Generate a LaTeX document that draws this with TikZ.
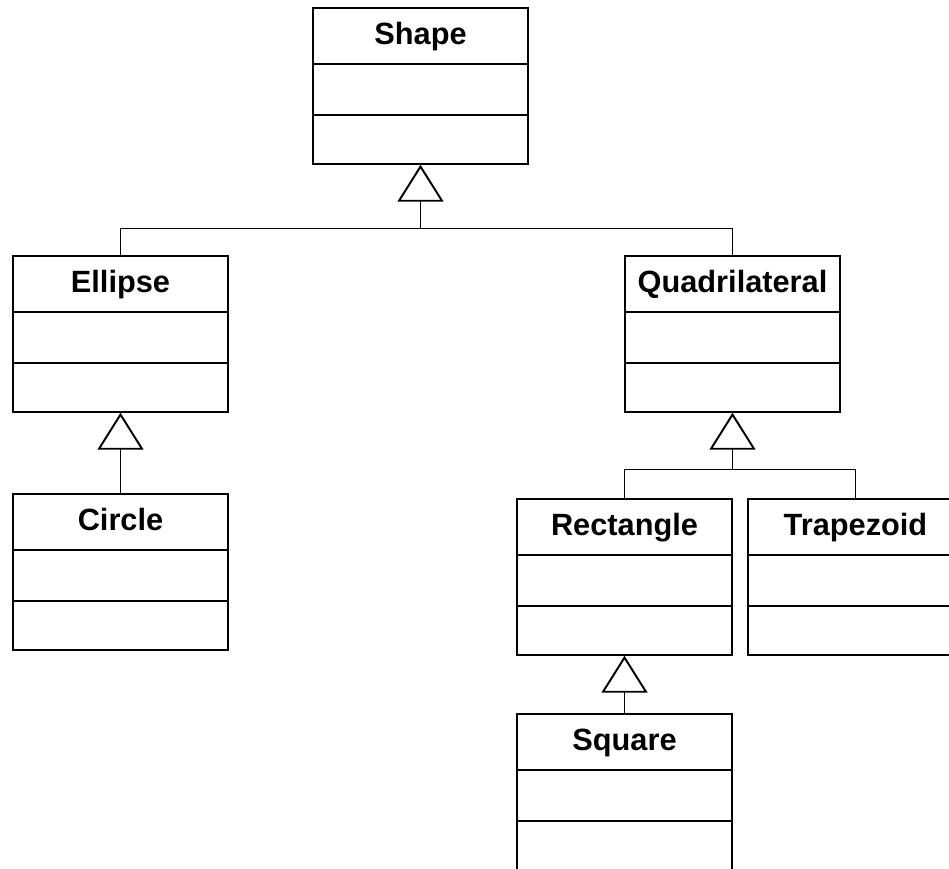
\documentclass[tikz,border=0pt]{standalone}
\usepackage{fontspec}
\setmainfont{Liberation Sans}
\usetikzlibrary{shapes.multipart,arrows.meta,calc}

\tikzset{
  umlclass/.style={draw, line width=1.1pt, rectangle split, rectangle split parts=3,
    inner sep=0pt, minimum width=4.3cm, anchor=north,
    font=\bfseries\fontsize{17.5}{20}\selectfont},
  inherit/.style={line width=0.6pt,
    -{Triangle[open, length=0.74cm, width=0.92cm, line width=1.1pt]}},
  branch/.style={line width=0.6pt},
}
\newcommand{\umltitle}[1]{\vbox to 1.08cm{\hbox{\rule{0pt}{0.72cm}#1}\vss}}
\newcommand{\umlbody}{\nodepart{two}\rule{0pt}{0.98cm}\nodepart{three}\rule{0pt}{0.94cm}}

\begin{document}
\begin{tikzpicture}
  \useasboundingbox (0,0) rectangle (18.98,-17.38);

  \node[umlclass] (shape) at (8.41,-0.14) {\umltitle{Shape}\umlbody};
  \node[umlclass] (ellipse) at (2.41,-5.10) {\umltitle{Ellipse}\umlbody};
  \node[umlclass] (quad) at (14.65,-5.10) {\umltitle{Quadrilateral}\umlbody};
  \node[umlclass] (circle) at (2.41,-9.86) {\umltitle{Circle}\umlbody};
  \node[umlclass] (rect) at (12.49,-9.96) {\umltitle{Rectangle}\umlbody};
  \node[umlclass] (trap) at (17.11,-9.96) {\umltitle{Trapezoid}\umlbody};
  \node[umlclass] (square) at (12.49,-14.26) {\umltitle{Square}\umlbody};

  \coordinate (shape-join) at ($(shape.south)+(0,-1.28)$);
  \coordinate (quad-join) at ($(quad.south)+(0,-1.14)$);

  \draw[inherit] (shape-join) -- (shape.south);
  \draw[branch] (ellipse.north) |- (shape-join) -| (quad.north);

  \draw[inherit] (quad-join) -- (quad.south);
  \draw[branch] (rect.north) |- (quad-join) -| (trap.north);

  \draw[inherit] (circle.north) -- (ellipse.south);
  \draw[inherit] (square.north) -- (rect.south);
\end{tikzpicture}
\end{document}
